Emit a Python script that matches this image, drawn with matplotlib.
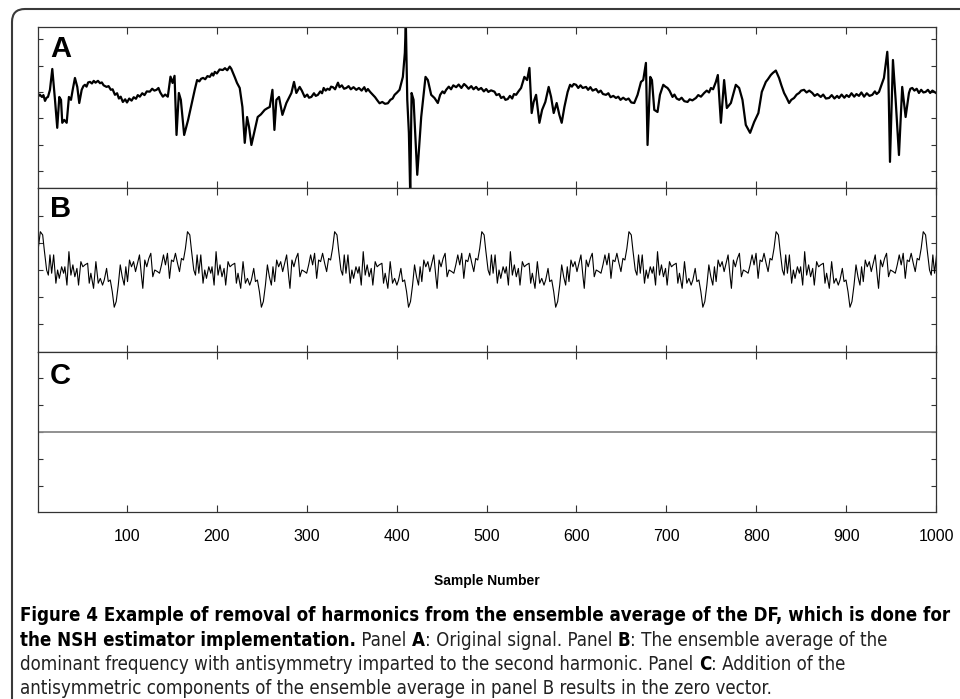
# ===========================================================================
# =                            Imports
# ===========================================================================
import matplotlib
matplotlib.use('Agg')
import matplotlib.pyplot as plt
from matplotlib.patches import FancyBboxPatch
from matplotlib.transforms import IdentityTransform

# ===========================================================================
# =                              Data
# ===========================================================================
# Panel A: original signal (sample number, amplitude)
a_samples = [1, 3, 5.4, 7, 8.8, 10.5, 12.1, 14.3, 16.9, 19.9, 22.4, 24.7, 26.6, 28, 30.2,
             32.9, 35.4, 37.7, 39.6, 42.1, 44.7, 46.9, 49.6, 51.5, 53.2, 55, 56.8, 58.8,
             61, 63, 65, 67.7, 70, 72, 74, 77.3, 79.5, 82, 84, 86.6, 89, 91, 93, 95.4, 98,
             100, 102.5, 105.1, 107.5, 110, 112, 114.3, 117, 119.5, 122, 125.4, 128, 130.5,
             132.9, 135, 137, 139.9, 142.5, 145.4, 148.4, 150.7, 152.9, 155.1, 157.7,
             159.9, 163.6, 168, 172.9, 175.5, 178, 180.5, 182.5, 184.7, 187, 189.5, 192.1,
             194.5, 196, 197.7, 200, 203, 206.6, 209, 211.5, 214.3, 216, 218, 220, 222.4,
             225.4, 228.4, 231, 233.6, 235.8, 238.4, 242.1, 245.4, 249, 253.2, 256, 258.8,
             261.8, 264, 266.2, 269.1, 272.9, 277.3, 282.9, 285.8, 288.4, 292.1, 294.5,
             297.7, 300.5, 302.5, 305.1, 308, 310, 312.4, 315, 317, 318.8, 321, 323, 325.4,
             327, 329.1, 331.5, 333, 334.7, 336.5, 339, 341.5, 344, 346.5, 349, 352, 355.1,
             358, 361, 364, 366, 368, 370.5, 373.6, 376, 378.5, 381, 384, 387, 390.2, 393,
             395.5, 397.7, 400.5, 403.2, 406.9, 409.1, 410.2, 411.8, 413.6, 415.1, 416.6,
             418.8, 422.9, 427.3, 432.1, 434.7, 438.4, 442.1, 445.8, 448.4, 451, 453,
             455.1, 458, 460.5, 463, 466.2, 469, 472, 475, 477.3, 480, 483, 485.5, 488.4,
             491, 494, 497, 499.6, 502, 505, 508.8, 511, 514, 516.2, 519, 521, 523.6, 526,
             528.5, 530.5, 532.9, 535.5, 538.4, 542.1, 545.1, 547.7, 550.2, 552.4, 555.1,
             558.8, 561.8, 565.4, 569.1, 571.8, 574.7, 578, 581, 583.6, 586.6, 590.2,
             592.9, 595, 597, 599.6, 602, 604.5, 607, 610.7, 613, 615.5, 618, 621.8, 624.5,
             627, 629.5, 632.9, 635.5, 638, 641, 644, 646.5, 649, 652, 655.1, 658, 661,
             664.3, 668, 671.8, 674.3, 677.3, 679.1, 682.1, 684, 686.6, 690.2, 692.9,
             696.6, 699, 701.3, 703.5, 706.9, 709, 711.5, 714.3, 717, 720, 723.6, 726, 729,
             732.9, 735.5, 738.5, 742.1, 745, 747.5, 749.6, 752, 755.1, 757.3, 760.7,
             764.3, 767.3, 771.8, 777.3, 781, 784.7, 788.4, 793.2, 797.7, 802.4, 806.2,
             810.7, 813, 816.2, 818.5, 821.8, 825.4, 828, 831, 833.5, 836.6, 839, 842.1,
             845, 847.7, 850, 853.2, 856, 859, 862.4, 865, 868, 871.8, 874.5, 877.5, 881,
             884, 887, 890, 892.1, 895, 898, 900.5, 903.2, 906, 909, 911.5, 914.3, 917,
             920, 923, 926, 929.1, 932, 934, 936.6, 942.1, 945.8, 946.9, 948.8, 952.1,
             955.1, 958.8, 962.4, 966.2, 969.9, 971.5, 973.6, 976, 978.5, 981, 983.5, 986,
             988.4, 991, 993.5, 996, 1000]
a_values = [-0.18, -0.10, -0.19, -0.12, -0.34, -0.22, -0.19, 0.08, 0.87, -0.30, -1.36, -0.19,
            -0.30, -1.17, -1.06, -1.17, -0.19, -0.30, 0.08, 0.53, 0.19, -0.42, 0.08, 0.22,
            0.27, 0.20, 0.36, 0.38, 0.32, 0.42, 0.35, 0.42, 0.33, 0.36, 0.25, 0.19, 0.22,
            0.08, 0.10, -0.11, -0.05, -0.25, -0.18, -0.38, -0.28, -0.40, -0.25, -0.33,
            -0.20, -0.26, -0.12, -0.18, -0.05, -0.12, 0.02, 0.01, 0.12, 0.05, 0.08, 0.15,
            -0.02, -0.18, -0.10, -0.18, 0.58, 0.34, 0.61, -1.63, -0.04, -0.30, -1.63,
            -1.06, -0.30, 0.10, 0.45, 0.40, 0.50, 0.53, 0.48, 0.60, 0.57, 0.70, 0.62, 0.76,
            0.70, 0.85, 0.83, 0.90, 0.82, 0.96, 0.88, 0.72, 0.55, 0.34, 0.15, -0.57, -1.93,
            -0.95, -1.33, -2.01, -1.44, -0.95, -0.85, -0.68, -0.62, -0.57, 0.08, -1.44,
            -0.30, -0.19, -0.87, -0.42, -0.04, 0.38, -0.04, 0.19, 0.05, -0.19, -0.10,
            -0.22, -0.19, -0.05, -0.15, -0.11, 0.02, -0.05, 0.15, 0.05, 0.12, 0.08, 0.20,
            0.18, 0.10, 0.22, 0.35, 0.18, 0.25, 0.12, 0.15, 0.22, 0.10, 0.18, 0.08, 0.15,
            0.05, 0.18, 0.02, 0.11, 0.00, -0.11, -0.20, -0.32, -0.43, -0.38, -0.45, -0.43,
            -0.30, -0.25, -0.11, -0.02, 0.08, 0.57, 1.48, 2.65, -0.30, -1.55, -3.90, -0.04,
            -0.30, -3.14, -0.95, 0.57, 0.45, -0.11, -0.23, -0.42, -0.11, 0.02, -0.05, 0.08,
            0.20, 0.10, 0.25, 0.18, 0.28, 0.15, 0.30, 0.23, 0.12, 0.22, 0.10, 0.19, 0.08,
            0.15, 0.02, 0.11, 0.00, 0.06, 0.01, -0.12, -0.08, -0.23, -0.18, -0.30, -0.27,
            -0.15, -0.25, -0.08, -0.11, 0.02, 0.15, 0.57, 0.45, 0.91, -0.80, -0.38, -0.11,
            -1.17, -0.68, -0.38, 0.19, -0.19, -0.80, -0.42, -0.87, -1.17, -0.57, 0.00,
            0.27, 0.20, 0.30, 0.27, 0.15, 0.25, 0.15, 0.19, 0.08, 0.18, 0.05, 0.11, -0.02,
            0.05, -0.08, -0.11, -0.05, -0.20, -0.15, -0.23, -0.18, -0.30, -0.22, -0.30,
            -0.25, -0.40, -0.42, -0.11, 0.38, 0.45, 1.10, -2.01, 0.57, 0.45, -0.68, -0.76,
            -0.11, 0.27, 0.20, 0.15, 0.05, -0.19, -0.10, -0.25, -0.30, -0.22, -0.35, -0.38,
            -0.28, -0.32, -0.23, -0.12, -0.18, -0.04, 0.05, -0.02, 0.15, 0.10, 0.38, 0.64,
            -1.17, 0.45, -0.61, -0.42, 0.27, 0.15, -0.30, -1.25, -1.55, -1.14, -0.80, 0.00,
            0.38, 0.48, 0.64, 0.72, 0.81, 0.53, 0.25, -0.04, -0.20, -0.42, -0.30, -0.23,
            -0.10, -0.04, 0.05, 0.08, -0.02, 0.05, -0.04, -0.15, -0.08, -0.19, -0.10,
            -0.25, -0.23, -0.12, -0.25, -0.15, -0.23, -0.10, -0.22, -0.12, -0.19, -0.05,
            -0.18, -0.08, -0.15, -0.02, -0.18, -0.05, -0.15, -0.11, 0.02, -0.08, 0.00,
            0.53, 1.52, 0.83, -2.65, 1.21, -0.30, -2.39, 0.19, -0.95, -0.04, 0.12, 0.15,
            0.05, 0.12, -0.04, 0.08, -0.02, 0.00, 0.08, -0.04, 0.05, -0.04]

# Panel B: one cycle of the ensemble average (offset from its peak, amplitude)
b_offsets = [0, 2.6, 4.4, 7.0, 8.9, 10.7, 12.6, 14.8, 17.3, 19.2, 21.1, 23.7, 25.9, 27.3,
             29.6, 31.8, 34.0, 36.2, 38.4, 40.7, 42.5, 45.1, 47.3, 49.6, 52.6, 54.4, 56.2,
             59.2, 61.8, 64.4, 66.7, 69.2, 71.1, 73.7, 75.6, 77.8, 80.0, 82.2, 84.4, 86.7,
             88.9, 91.1, 93.3, 95.1, 97.0, 99.2, 101.4, 103.7, 105.9, 108.1, 110.3, 112.6,
             114.0, 116.2, 118.4, 120.7, 122.9, 125.1, 127.3, 130.3, 132.6, 134.8, 137.0,
             139.2, 141.4, 143.7, 145.9, 148.1, 150.3, 152.6, 154.8, 157.0, 159.2, 161.4]
b_values = [1.42, 1.30, 0.74, 0.00, -0.19, 0.56, -0.12, 0.56, -0.49, 0.00, -0.31, 0.12,
            -0.12, 0.12, -0.56, 0.68, -0.19, 0.19, -0.25, 0.06, -0.56, 0.31, 0.12, 0.19,
            0.25, -0.49, -0.12, -0.68, 0.31, -0.49, -0.31, -0.56, -0.37, 0.06, -0.43, -0.37,
            -0.80, -1.38, -1.17, -0.56, 0.19, -0.25, -0.56, 0.12, -0.43, 0.37, 0.12, 0.31,
            -0.06, 0.25, 0.56, -0.25, -0.68, 0.37, 0.12, 0.43, 0.62, -0.25, 0.00, -0.06,
            -0.12, 0.19, 0.56, 0.19, 0.62, -0.31, 0.37, 0.31, 0.62, 0.25, -0.06, 0.43,
            0.37, 0.80]
b_first_peak = 3.6
b_period = 163.7

# Panel C: sum of the antisymmetric components -> zero vector
c_samples = [1, 1000]
c_values = [0, 0]

x_ticks = [100, 200, 300, 400, 500, 600, 700, 800, 900, 1000]
a_yticks = [-3, -2, -1, 0, 1, 2]
bc_yticks = [-2, -1, 0, 1, 2]

caption_lines = [
    [("Figure 4 Example of removal of harmonics from the ensemble average of the DF, which is done for", True)],
    [("the NSH estimator implementation.", True), (" Panel ", False), ("A", True),
     (": Original signal. Panel ", False), ("B", True), (": The ensemble average of the", False)],
    [("dominant frequency with antisymmetry imparted to the second harmonic. Panel ", False),
     ("C", True), (": Addition of the", False)],
    [("antisymmetric components of the ensemble average in panel B results in the zero vector.", False)],
]

# ===========================================================================
# =                              Figure
# ===========================================================================
W, H = 960, 699
plt.rcParams['font.family'] = ['Liberation Sans', 'DejaVu Sans']
fig = plt.figure(figsize=(W / 100, H / 100), dpi=100)


def rect(left, top, right, bottom):
    return [left / W, 1 - bottom / H, (right - left) / W, (bottom - top) / H]


ax_a = fig.add_axes(rect(38, 27, 936, 188))
ax_b = fig.add_axes(rect(38, 188, 936, 352))
ax_c = fig.add_axes(rect(38, 352, 936, 512))

ax_a.plot(a_samples, a_values, color='black', lw=1.6)

# repeat the ensemble-average cycle across the record
b_x, b_y = [], []
for k in range(-1, 7):
    start = b_first_peak + k * b_period
    b_x.extend([start + o for o in b_offsets])
    b_y.extend(b_values)
ax_b.plot(b_x, b_y, color='black', lw=0.8)

ax_c.plot(c_samples, c_values, color='#888888', lw=1.3)

for ax, ylim, yticks in [(ax_a, (-3.64, 2.46), a_yticks),
                         (ax_b, (-3.04, 3.04), bc_yticks),
                         (ax_c, (-2.96, 2.96), bc_yticks)]:
    ax.set_xlim(1, 1000)
    ax.set_ylim(*ylim)
    ax.set_xticks(x_ticks)
    ax.set_yticks(yticks)
    ax.tick_params(direction='in', top=True, right=True, labelleft=False,
                   labelbottom=False, color='#333333', width=0.8)
    ax.tick_params(axis='x', length=5)
    ax.tick_params(axis='y', length=3.5)
    for sp in ax.spines.values():
        sp.set_color('#333333')
        sp.set_linewidth(0.9)

ax_c.tick_params(axis='x', labelbottom=True, labelsize=11.5, pad=12.5)

for letter, base in [('A', 57), ('B', 217), ('C', 384)]:
    fig.text(50 / W, 1 - base / H, letter, fontsize=21, fontweight='bold', va='baseline')

fig.text(487 / W, 1 - 581 / H, 'Sample Number', ha='center', va='center',
         fontsize=10, fontweight='bold')

# rounded frame around the figure (runs off right and bottom edges)
frame = FancyBboxPatch((12, -100), 1100, H - 9 + 100,
                       boxstyle='round,pad=0,rounding_size=13',
                       transform=IdentityTransform(), fill=False,
                       edgecolor='#3a3a3a', lw=1.5)
fig.add_artist(frame)

# ---------------------------------------------------------------------------
# caption with mixed bold / regular runs
# ---------------------------------------------------------------------------
cap_font = dict(family='DejaVu Sans', stretch='condensed')
renderer = fig.canvas.get_renderer()


def run_width(s, bold, size):
    t = fig.text(0, 0, 'a' + s + 'a', fontsize=size,
                 fontweight='bold' if bold else 'normal', **cap_font)
    w1 = t.get_window_extent(renderer).width
    t.set_text('aa')
    w2 = t.get_window_extent(renderer).width
    t.remove()
    return w1 - w2


cap_size = 14 * 935 / run_width(caption_lines[0][0][0], True, 14)
baselines = [621, 646, 670, 694]
for line, base in zip(caption_lines, baselines):
    x = 20
    for text, bold in line:
        fig.text(x / W, 1 - base / H, text, fontsize=cap_size,
                 fontweight='bold' if bold else 'normal', va='baseline',
                 color='black' if bold else '#222222', **cap_font)
        x += run_width(text, bold, cap_size)

fig.savefig('out.png', dpi=100)
